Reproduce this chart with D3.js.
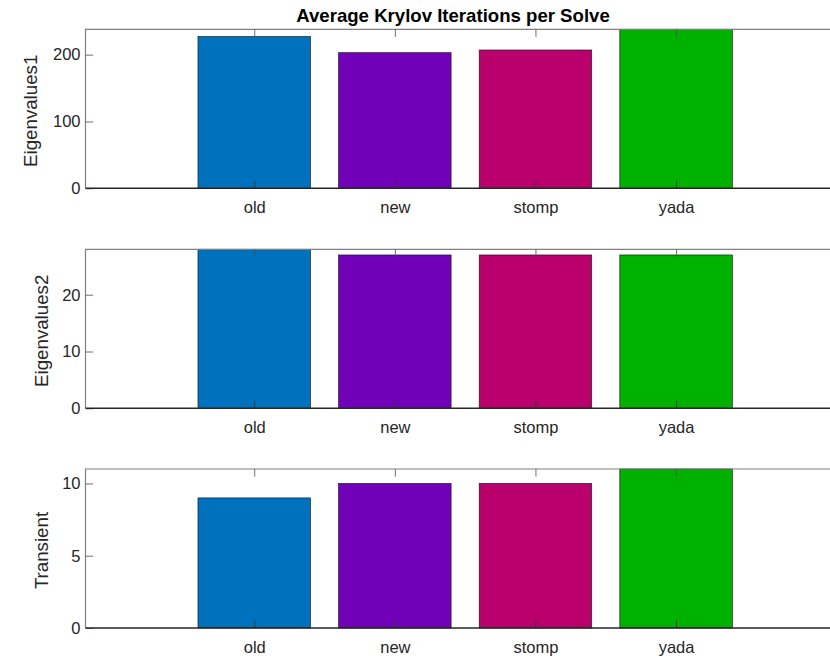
<!DOCTYPE html>
<html>
<head>
<meta charset="utf-8">
<script src="https://cdn.jsdelivr.net/npm/d3@7"></script>
<style>
  html, body { margin: 0; padding: 0; background: #fff; }
  svg { display: block; }
  text { font-family: "Liberation Sans", Arial, Helvetica, sans-serif; }
</style>
</head>
<body>
<svg id="chart" width="830" height="658"></svg>
<script>
// Solver variants shown on every panel
const categories = ["old", "new", "stomp", "yada"];
const barColors = ["#0071bd", "#7100b9", "#b9006d", "#00b100"];

// Average Krylov iterations per solve, one array per problem
const panelNames = ["Eigenvalues1", "Eigenvalues2", "Transient"];
const eigen1Values = [227, 203, 207, 238];
const eigen2Values = [28, 27, 27, 27];
const transientValues = [9, 10, 10, 11];

// Y limits and ticks for each panel
const eigen1Limit = [0, 238];
const eigen2Limit = [0, 28];
const transientLimit = [0, 11];
const eigen1Ticks = [0, 100, 200];
const eigen2Ticks = [0, 10, 20];
const transientTicks = [0, 5, 10];

const panels = [
  { name: panelNames[0], values: eigen1Values, limit: eigen1Limit, ticks: eigen1Ticks },
  { name: panelNames[1], values: eigen2Values, limit: eigen2Limit, ticks: eigen2Ticks },
  { name: panelNames[2], values: transientValues, limit: transientLimit, ticks: transientTicks }
];

const svg = d3.select("#chart");
const axisLeftX = 85.5;
const axisRightX = 844.8;
const panelTops = [29.3, 249.3, 469.0];
const panelHeight = 159;
const tickLen = 7.6;
const barWidth = 0.8;

// Category index -> horizontal position (categories sit at 1..4)
const x = d3.scaleLinear().domain([-0.2, 5.2]).range([axisLeftX, axisRightX]);
const catPos = categories.map((c, i) => i + 1);

svg.append("text")
  .attr("x", 453)
  .attr("y", 21.7)
  .attr("text-anchor", "middle")
  .attr("font-size", "18.6px")
  .attr("font-weight", "bold")
  .attr("fill", "#000")
  .text("Average Krylov Iterations per Solve");

panels.forEach((p, pi) => {
  const top = panelTops[pi];
  const bottom = top + panelHeight;
  const y = d3.scaleLinear().domain(p.limit).range([bottom, top]);
  const g = svg.append("g");

  // bars
  g.selectAll("rect.bar")
    .data(p.values)
    .join("rect")
    .attr("class", "bar")
    .attr("x", (d, i) => x(catPos[i] - barWidth / 2))
    .attr("width", (d, i) => x(catPos[i] + barWidth / 2) - x(catPos[i] - barWidth / 2))
    .attr("y", d => y(Math.min(d, p.limit[1])))
    .attr("height", d => y(0) - y(Math.min(d, p.limit[1])))
    .attr("fill", (d, i) => barColors[i])
    .attr("stroke", "#1e1e1e")
    .attr("stroke-width", 0.7);

  // box outline (top and left edges)
  g.append("path")
    .attr("d", `M${axisRightX},${top}H${axisLeftX}V${bottom}`)
    .attr("fill", "none")
    .attr("stroke", "#808080")
    .attr("stroke-width", 1.2);

  // left axis with inward ticks
  const yAxis = g.append("g")
    .attr("transform", `translate(${axisLeftX},0)`)
    .call(d3.axisLeft(y).tickValues(p.ticks).tickSize(-tickLen).tickPadding(5).tickFormat(d3.format("d")));
  yAxis.select(".domain").remove();
  yAxis.selectAll(".tick line").attr("stroke", "#4d4d4d").attr("stroke-width", 0.8);
  yAxis.selectAll(".tick text")
    .attr("font-size", "16.5px")
    .attr("fill", "#262626")
    .attr("font-family", "'Liberation Sans', Arial, sans-serif");

  // top axis ticks (no labels)
  const topAxis = g.append("g")
    .attr("transform", `translate(0,${top})`)
    .call(d3.axisTop(x).tickValues(catPos).tickSize(-tickLen).tickFormat(""));
  topAxis.select(".domain").remove();
  topAxis.selectAll(".tick line").attr("stroke", "#4d4d4d").attr("stroke-width", 0.8);

  // bottom axis with category labels
  const xAxis = g.append("g")
    .attr("transform", `translate(0,${bottom})`)
    .call(d3.axisBottom(x).tickValues(catPos).tickSize(-tickLen).tickPadding(13)
      .tickFormat((d) => categories[d - 1]));
  xAxis.select(".domain").remove();
  xAxis.selectAll(".tick line").attr("stroke", "#333").attr("stroke-width", 0.8);
  xAxis.selectAll(".tick text")
    .attr("font-size", "16.5px")
    .attr("fill", "#262626")
    .attr("font-family", "'Liberation Sans', Arial, sans-serif");

  // zero baseline
  g.append("line")
    .attr("x1", axisLeftX).attr("x2", axisRightX)
    .attr("y1", y(0)).attr("y2", y(0))
    .attr("stroke", "#262626")
    .attr("stroke-width", 1.4);

  // panel label
  const labelX = pi === 0 ? 37 : 48;
  svg.append("text")
    .attr("transform", `translate(${labelX},${(top + bottom) / 2 + 2}) rotate(-90)`)
    .attr("text-anchor", "middle")
    .attr("font-size", "18.7px")
    .attr("fill", "#262626")
    .text(p.name);
});
</script>
</body>
</html>
